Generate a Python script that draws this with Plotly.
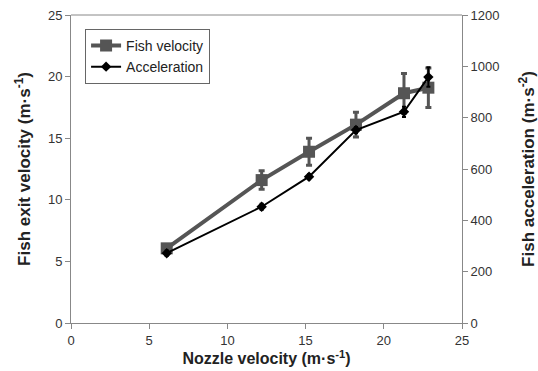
import plotly.graph_objects as go

nozzle = [6.12, 12.19, 15.22, 18.22, 21.29, 22.85]
fish_vel = [6.06, 11.6, 13.9, 16.1, 18.65, 19.1]
fish_vel_err = [0.3, 0.75, 1.1, 1.0, 1.6, 1.6]
accel = [272, 453, 570, 752, 823, 958]
accel_err = [10, 12, 10, 12, 20, 38]

FONT = "Liberation Sans, Arial, sans-serif"

fig = go.Figure()
fig.add_trace(go.Scatter(
    x=nozzle, y=fish_vel, name="Fish velocity", mode="lines+markers",
    line=dict(color="#555555", width=4),
    marker=dict(symbol="square", size=12, color="#555555"),
    error_y=dict(type="data", array=fish_vel_err, color="#555555", thickness=3, width=3),
    yaxis="y"))
fig.add_trace(go.Scatter(
    x=nozzle, y=accel, name="Acceleration", mode="lines+markers",
    line=dict(color="#000000", width=2),
    marker=dict(symbol="diamond", size=8, color="#000000"),
    error_y=dict(type="data", array=accel_err, color="#000000", thickness=2, width=2),
    yaxis="y2"))

axis_common = dict(showgrid=False, zeroline=False, showline=True, linecolor="#888888",
                   linewidth=1, ticks="outside", ticklen=5, tickcolor="#888888",
                   automargin=False,
                   tickfont=dict(family=FONT, size=13, color="#333333"))

fig.update_layout(
    width=538, height=371,
    margin=dict(l=71, r=76, t=15, b=48),
    paper_bgcolor="white", plot_bgcolor="white",
    font=dict(family=FONT, color="#222222"),
    xaxis=dict(range=[0, 25], dtick=5,
               title=dict(text="<b>Nozzle velocity (m·s<sup>-1</sup>)</b>", font=dict(size=16), standoff=3),
               **axis_common),
    yaxis=dict(range=[0, 25], dtick=5,
               title=dict(text="<b>Fish exit velocity (m·s<sup>-1</sup>)</b>", font=dict(size=17), standoff=12),
               **axis_common),
    yaxis2=dict(range=[0, 1200], dtick=200, overlaying="y", side="right",
                title=dict(text="<b>Fish acceleration (m·s<sup>-2</sup>)</b>", font=dict(size=17), standoff=26),
                **axis_common),
    legend=dict(x=0.036, y=0.955, xanchor="left", yanchor="top",
                bgcolor="white", bordercolor="#666666", borderwidth=1,
                font=dict(family=FONT, size=14, color="#222222"),
                tracegroupgap=0, itemwidth=30),
    showlegend=True,
)
fig.add_shape(type="line", xref="paper", yref="paper", x0=0, x1=1, y0=1, y1=1,
              line=dict(color="#888888", width=1))

fig.write_html("out.html")
